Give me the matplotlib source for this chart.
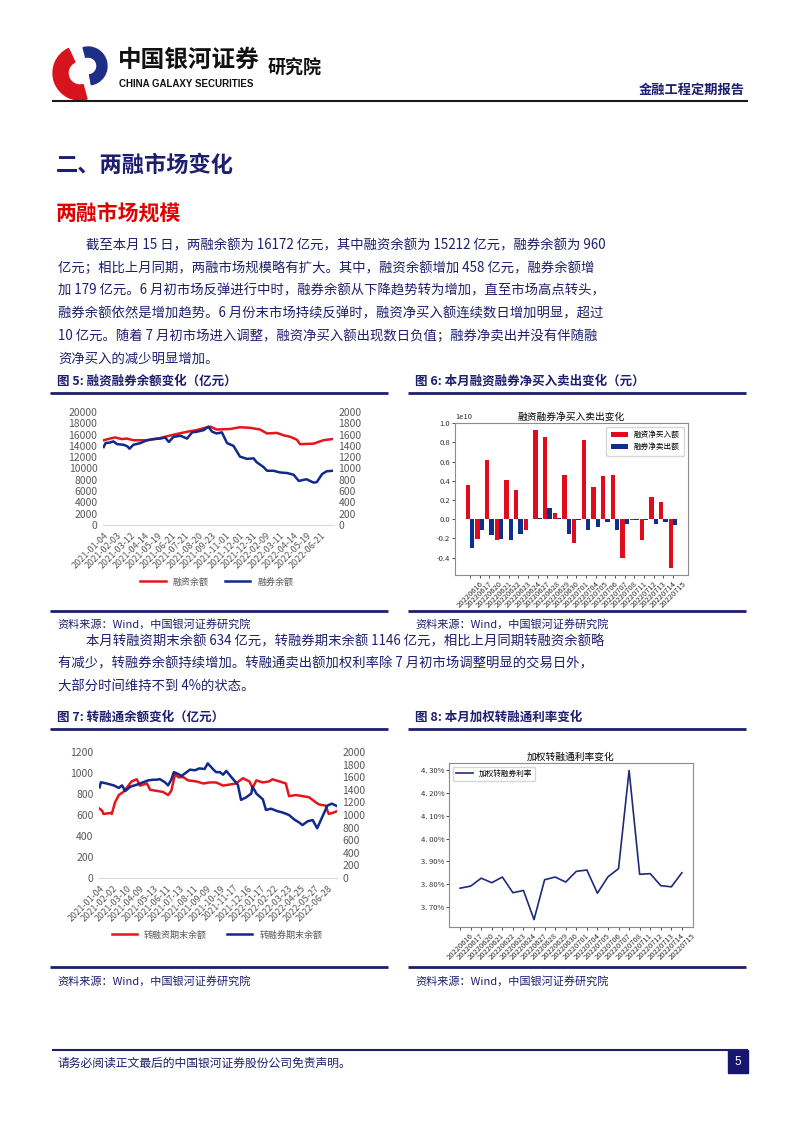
import matplotlib
matplotlib.use('Agg')
import matplotlib.pyplot as plt
from matplotlib.patches import Wedge, Rectangle
from matplotlib.ticker import MultipleLocator, FuncFormatter
import numpy as np

plt.rcParams['font.family'] = ['Noto Sans CJK SC', 'DejaVu Sans']
plt.rcParams['axes.unicode_minus'] = False

# ---------------- data ----------------
# 图5 融资融券余额（亿元），横轴为交易日序号
fig5_ticks = ['2021-01-04', '2021-02-03', '2021-03-12', '2021-04-14', '2021-05-19',
              '2021-06-21', '2021-07-21', '2021-08-20', '2021-09-23', '2021-11-01',
              '2021-12-01', '2021-12-31', '2022-02-09', '2022-03-11', '2022-04-14',
              '2022-05-19', '2022-06-21']
fin_day = [0, 10, 18, 28, 36, 46, 67, 88, 98, 113, 129, 144, 160, 165, 175, 196, 211,
           227, 242, 253, 268, 278, 289, 299, 304, 325, 340, 354]
fin_bal = [15000, 15300, 15500, 15200, 15300, 15000, 15000, 15400, 15700, 16100, 16500,
           16800, 17300, 17400, 16900, 17000, 17300, 17200, 16900, 16200, 16300, 15900,
           15600, 15100, 14300, 14400, 15000, 15212]
sec_day = [0, 3, 10, 15, 21, 31, 37, 40, 46, 57, 67, 77, 88, 95, 101, 108, 119, 129, 137,
           144, 155, 162, 168, 175, 183, 191, 201, 211, 222, 232, 237, 247, 253, 263, 273,
           284, 294, 302, 314, 325, 330, 338, 345, 354]
sec_bal = [1380, 1450, 1460, 1480, 1430, 1420, 1390, 1350, 1420, 1450, 1500, 1520, 1530,
           1550, 1470, 1560, 1580, 1530, 1640, 1650, 1680, 1740, 1650, 1620, 1640, 1450,
           1400, 1210, 1170, 1180, 1110, 1030, 960, 960, 930, 920, 890, 780, 810, 750, 760,
           900, 950, 960]

# 图6 / 图8 本月交易日
days = ['20220616', '20220617', '20220620', '20220621', '20220622', '20220623',
        '20220624', '20220627', '20220628', '20220629', '20220630', '20220701',
        '20220704', '20220705', '20220706', '20220707', '20220708', '20220711',
        '20220712', '20220713', '20220714', '20220715']
# 亿元
fin_net_buy = [36, -21, 62, -22, 41, 30, -11, 93, 86, 6, 46, -25, 82, 34, 45, 46, -41,
               -0.5, -22, 23, 18, -51]
sec_net_sell = [-30, -11, -17, -21, -22, -15, 0.5, 1, 12, 1, -15, -1, -11, -8, -3, -11,
                -5, -1, -0.5, -5, -3, -6]

# 图7 转融通余额（亿元）
fig7_ticks = ['2021-01-04', '2021-02-02', '2021-03-10', '2021-04-09', '2021-05-13',
              '2021-06-11', '2021-07-13', '2021-08-11', '2021-09-09', '2021-10-19',
              '2021-11-17', '2021-12-16', '2022-01-17', '2022-02-22', '2022-03-23',
              '2022-04-25', '2022-05-27', '2022-06-28']
refi_day = [0, 4, 6, 17, 19, 24, 30, 37, 45, 50, 58, 63, 74, 79, 89, 99, 107, 112, 118,
            123, 131, 138, 151, 162, 172, 182, 193, 203, 213, 224, 234, 239, 245, 255,
            265, 270, 281, 291, 296, 307, 317, 327, 338, 343, 353, 358, 364, 370]
refi_bal = [660, 640, 610, 620, 610, 720, 790, 820, 880, 920, 940, 880, 900, 840, 830,
            820, 790, 830, 990, 960, 960, 930, 920, 900, 910, 910, 880, 890, 900, 950,
            920, 860, 930, 910, 920, 940, 920, 900, 780, 790, 780, 770, 720, 700, 690,
            610, 620, 634]
relend_day = [0, 2, 11, 22, 30, 35, 40, 48, 58, 68, 76, 84, 89, 94, 102, 107, 112, 116,
              123, 128, 136, 141, 149, 156, 164, 169, 177, 182, 188, 193, 198, 206, 216,
              221, 229, 237, 239, 245, 255, 260, 268, 278, 286, 296, 304, 312, 317, 325,
              333, 340, 348, 356, 363, 370]
relend_bal = [1440, 1520, 1500, 1470, 1430, 1470, 1380, 1450, 1480, 1520, 1550, 1560,
              1560, 1570, 1520, 1470, 1560, 1680, 1650, 1620, 1680, 1720, 1710, 1740,
              1730, 1820, 1730, 1680, 1680, 1640, 1700, 1600, 1480, 1240, 1280, 1340,
              1450, 1340, 1250, 1080, 1100, 1060, 1040, 1000, 930, 880, 840, 900, 920,
              790, 970, 1150, 1180, 1146]

# 图8 加权转融券利率（%）
rate = [3.782, 3.791, 3.826, 3.806, 3.831, 3.762, 3.772, 3.644, 3.819, 3.831, 3.809,
        3.856, 3.862, 3.760, 3.832, 3.868, 4.300, 3.843, 3.846, 3.793, 3.788, 3.850]

# ---------------- page ----------------
W, H = 802, 1133
NAVY = '#1e1e6e'
RED = '#e3161c'
BLUE = '#102a8c'
GRAY = '#595959'

fig = plt.figure(figsize=(W / 100, H / 100), dpi=100)
bg = fig.add_axes([0, 0, 1, 1])
bg.set_xlim(0, W)
bg.set_ylim(H, 0)
bg.axis('off')


def box(l, t, r, b):
    return fig.add_axes([l / W, 1 - b / H, (r - l) / W, (b - t) / H])


def hline(y, x0, x1, color=NAVY, lw=2.0):
    bg.plot([x0, x1], [y, y], color=color, lw=lw, solid_capstyle='butt')


# header logo and titles
bg.add_patch(Wedge((80, 73), 27, 75, 245, width=15, color='#d7141d'))
bg.add_patch(Wedge((88, 66), 19, 255, 440, width=10, color='#1d2e86'))
bg.text(118, 60, '中国银河证券', fontsize=17, fontweight='bold', color='#111111', va='center')
bg.text(119, 84, 'CHINA GALAXY SECURITIES', fontsize=7, fontweight='bold',
        family='Liberation Sans', color='#111111', va='center')
bg.text(268, 68, '研究院', fontsize=13, fontweight='bold', color='#111111', va='center')
bg.text(745, 90, '金融工程定期报告', fontsize=9.5, fontweight='bold', color=NAVY,
        va='center', ha='right')
hline(101, 52, 748, color='#1a1a1a', lw=1.5)

bg.text(56, 165, '二、两融市场变化', fontsize=16, fontweight='bold', color=NAVY, va='center')
bg.text(56, 213, '两融市场规模', fontsize=15, fontweight='bold', color='#e00000', va='center')

para1 = ['截至本月 15 日，两融余额为 16172 亿元，其中融资余额为 15212 亿元，融券余额为 960',
         '亿元；相比上月同期，两融市场规模略有扩大。其中，融资余额增加 458 亿元，融券余额增',
         '加 179 亿元。6 月初市场反弹进行中时，融券余额从下降趋势转为增加，直至市场高点转头，',
         '融券余额依然是增加趋势。6 月份末市场持续反弹时，融资净买入额连续数日增加明显，超过',
         '10 亿元。随着 7 月初市场进入调整，融资净买入额出现数日负值；融券净卖出并没有伴随融',
         '资净买入的减少明显增加。']
for i, line in enumerate(para1):
    bg.text(86 if i == 0 else 58, 245 + i * 22.8, line, fontsize=9.6, color=NAVY, va='center')

para2 = ['本月转融资期末余额 634 亿元，转融券期末余额 1146 亿元，相比上月同期转融资余额略',
         '有减少，转融券余额持续增加。转融通卖出额加权利率除 7 月初市场调整明显的交易日外，',
         '大部分时间维持不到 4%的状态。']
for i, line in enumerate(para2):
    bg.text(86 if i == 0 else 58, 641 + i * 22.8, line, fontsize=9.6, color=NAVY, va='center')

# captions, rules, sources
for y_cap, y_rule, y_src_rule, y_src, caps in [
        (381, 393, 611, 624, ['图 5: 融资融券余额变化（亿元）', '图 6: 本月融资融券净买入卖出变化（元）']),
        (717, 729, 967, 981, ['图 7: 转融通余额变化（亿元）', '图 8: 本月加权转融通利率变化'])]:
    for x0, x1, cap in [(50, 388, caps[0]), (408, 746, caps[1])]:
        bg.text(x0 + 7, y_cap, cap, fontsize=9, fontweight='bold', color=NAVY, va='center')
        hline(y_rule, x0, x1)
        hline(y_src_rule, x0, x1)
        bg.text(x0 + 7, y_src, '资料来源：Wind，中国银河证券研究院', fontsize=8,
                color=NAVY, va='center')

# footer
hline(1050, 52, 748, lw=1.5)
bg.text(58, 1063, '请务必阅读正文最后的中国银河证券股份公司免责声明。', fontsize=8.5,
        color=NAVY, va='center')
bg.add_patch(Rectangle((728, 1050), 20, 23, color='#16166e'))
bg.text(738, 1062, '5', fontsize=8.5, color='white', ha='center', va='center',
        family='Liberation Sans')


# ---------------- dual-axis line charts ----------------
def style_dual(ax, axr, ticks, n):
    for a in (ax, axr):
        for s in a.spines.values():
            s.set_visible(False)
        a.tick_params(length=0, colors=GRAY, labelsize=7.5, pad=4)
    ax.spines['bottom'].set_visible(True)
    ax.spines['bottom'].set_color('#d9d9d9')
    ax.set_xticks(range(0, 21 * len(ticks), 21))
    ax.set_xticklabels(ticks, rotation=45, ha='right', rotation_mode='anchor', fontsize=6.5)
    ax.set_xlim(-1, n + 1)


ax5 = box(103, 412, 333, 525)
l1, = ax5.plot(fin_day, fin_bal, color=RED, lw=1.8, label='融资余额')
ax5.set_ylim(0, 20000)
ax5.yaxis.set_major_locator(MultipleLocator(2000))
ax5r = ax5.twinx()
l2, = ax5r.plot(sec_day, sec_bal, color=BLUE, lw=1.8, label='融券余额')
ax5r.set_ylim(0, 2000)
ax5r.yaxis.set_major_locator(MultipleLocator(200))
style_dual(ax5, ax5r, fig5_ticks, fin_day[-1])
ax5.legend(handles=[l1, l2], loc='center', bbox_to_anchor=(217 / W, 1 - 582 / H),
           bbox_transform=fig.transFigure, ncol=2, frameon=False, fontsize=6.5,
           handlelength=2.8, columnspacing=1.8, labelcolor=GRAY)

ax7 = box(99, 752, 337, 878)
l3, = ax7.plot(refi_day, refi_bal, color=RED, lw=1.8, label='转融资期末余额')
ax7.set_ylim(0, 1200)
ax7.yaxis.set_major_locator(MultipleLocator(200))
ax7r = ax7.twinx()
l4, = ax7r.plot(relend_day, relend_bal, color=BLUE, lw=1.8, label='转融券期末余额')
ax7r.set_ylim(0, 2000)
ax7r.yaxis.set_major_locator(MultipleLocator(200))
style_dual(ax7, ax7r, fig7_ticks, refi_day[-1])
ax7.legend(handles=[l3, l4], loc='center', bbox_to_anchor=(217 / W, 1 - 935 / H),
           bbox_transform=fig.transFigure, ncol=2, frameon=False, fontsize=6.5,
           handlelength=2.8, columnspacing=2.2, labelcolor=GRAY)


# ---------------- matplotlib-style small charts ----------------
def style_small(ax):
    for s in ax.spines.values():
        s.set_color('#8c8c8c')
        s.set_linewidth(0.8)
    ax.tick_params(labelsize=5.5, length=2, width=0.6, colors='#333333', pad=1.5)


ax6 = box(455, 423, 688, 575)
x = np.arange(len(days))
ax6.bar(x - 0.225, np.array(fin_net_buy) * 1e8, width=0.45, color='#e00b1c', label='融资净买入额')
ax6.bar(x + 0.225, np.array(sec_net_sell) * 1e8, width=0.45, color='#0d2f8f', label='融券净卖出额')
ax6.set_xticks(x)
ax6.set_xticklabels(days, rotation=45)
ax6.set_title('融资融券净买入卖出变化', fontsize=7, pad=2)
ax6.legend(loc='upper right', fontsize=5.5, handlelength=2.2, borderpad=0.6)
style_small(ax6)
ax6.yaxis.get_offset_text().set_fontsize(5.5)

ax8 = box(449, 763, 693, 927)
ax8.plot(x, rate, color='#1f2a7a', lw=1.2, label='加权转融券利率')
ax8.set_xticks(x)
ax8.set_xticklabels(days, rotation=45)
ax8.set_yticks([3.7, 3.8, 3.9, 4.0, 4.1, 4.2, 4.3])
ax8.yaxis.set_major_formatter(FuncFormatter(lambda v, p: f'{v:.2f}%'.replace('.', '. ')))
ax8.set_title('加权转融通利率变化', fontsize=7, pad=2)
ax8.legend(loc='upper left', fontsize=5.5, handlelength=2.2)
style_small(ax8)

fig.savefig('out.png', dpi=100)
